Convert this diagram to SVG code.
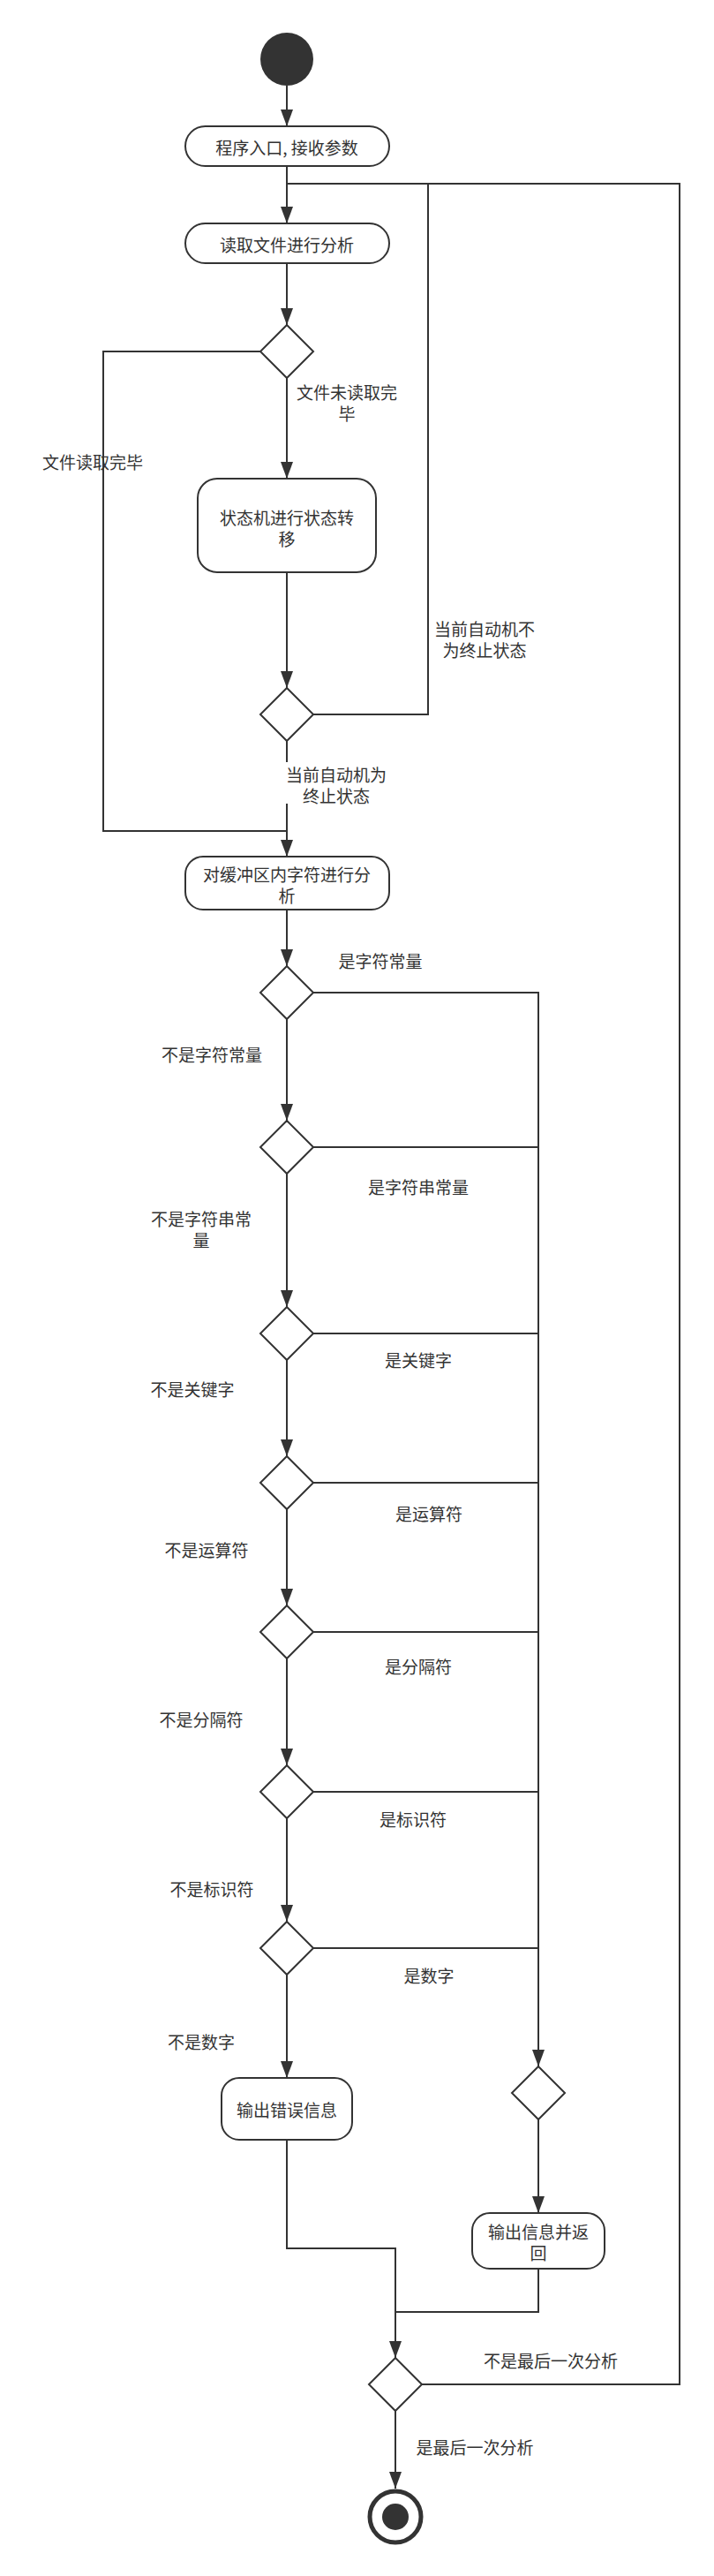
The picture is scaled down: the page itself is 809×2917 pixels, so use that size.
<svg xmlns="http://www.w3.org/2000/svg" width="809" height="2917" viewBox="0 0 809 2917">
<style>
.node{fill:#fff;stroke:#333;stroke-width:2}
.dia{fill:#fff;stroke:#333;stroke-width:2}
.t{font-family:"Noto Sans CJK SC","Liberation Sans",sans-serif;font-size:19px;fill:#333;text-anchor:middle;dominant-baseline:central}
.c{fill:none;stroke:#333;stroke-width:2}
.ca{fill:none;stroke:#333;stroke-width:2;marker-end:url(#arr)}
</style>
<defs>
<marker id="arr" markerUnits="userSpaceOnUse" markerWidth="20" markerHeight="14" refX="19" refY="7" orient="auto">
<path d="M0,0 L19,7 L0,14 z" fill="#333"/>
</marker>
</defs>
<rect width="809" height="2917" fill="#fff"/>

<g id="label-file-done"><text class="t" x="105" y="522">文件读取完毕</text></g>

<g id="connectors">
<path class="ca" d="M325,97 V143"/>
<path class="ca" d="M325,188 V253"/>
<path class="ca" d="M325,298 V368"/>
<path class="ca" d="M325,428 V542"/>
<path class="ca" d="M325,648 V779"/>
<path class="c" d="M355,809 H485 V208 H325"/>
<path class="ca" d="M325,839 V970"/>
<path class="c" d="M295,398 H117 V941 H325"/>
<path class="ca" d="M325,1030 V1094"/>
<path class="ca" d="M355,1124 H610 V2340"/>
<path class="ca" d="M325,1154 V1269"/>
<path class="c" d="M355,1299 H610"/>
<path class="ca" d="M325,1329 V1480"/>
<path class="c" d="M355,1510 H610"/>
<path class="ca" d="M325,1540 V1649"/>
<path class="c" d="M355,1679 H610"/>
<path class="ca" d="M325,1709 V1818"/>
<path class="c" d="M355,1848 H610"/>
<path class="ca" d="M325,1878 V1999"/>
<path class="c" d="M355,2029 H610"/>
<path class="ca" d="M325,2059 V2176"/>
<path class="c" d="M355,2206 H610"/>
<path class="ca" d="M325,2236 V2353"/>
<path class="ca" d="M610,2400 V2506"/>
<path class="ca" d="M325,2423 V2546 H448 V2670"/>
<path class="c" d="M610,2569 V2618 H448"/>
<path class="c" d="M478,2700 H770 V208 H325"/>
<path class="ca" d="M448,2730 V2818"/>
</g>

<g id="labels">
<text class="t" x="393" y="443">文件未读取完</text>
<text class="t" x="393" y="467">毕</text>
<text class="t" x="549" y="711">当前自动机不</text>
<text class="t" x="549" y="735">为终止状态</text>
<rect x="323" y="863" width="117" height="47" fill="#fff"/>
<text class="t" x="381" y="876">当前自动机为</text>
<text class="t" x="381" y="900">终止状态</text>
<text class="t" x="431" y="1087">是字符常量</text>
<text class="t" x="240" y="1193">不是字符常量</text>
<text class="t" x="474" y="1343">是字符串常量</text>
<text class="t" x="228" y="1379">不是字符串常</text>
<text class="t" x="228" y="1403">量</text>
<text class="t" x="474" y="1539">是关键字</text>
<text class="t" x="218" y="1572">不是关键字</text>
<text class="t" x="486" y="1713">是运算符</text>
<text class="t" x="234" y="1754">不是运算符</text>
<text class="t" x="474" y="1886">是分隔符</text>
<text class="t" x="228" y="1946">不是分隔符</text>
<text class="t" x="468" y="2059">是标识符</text>
<text class="t" x="240" y="2138">不是标识符</text>
<text class="t" x="486" y="2236">是数字</text>
<text class="t" x="228" y="2311">不是数字</text>
<text class="t" x="624" y="2672">不是最后一次分析</text>
<text class="t" x="538" y="2770">是最后一次分析</text>
</g>

<g id="start"><circle cx="325" cy="67" r="30" fill="#333"/></g>
<g id="entry"><rect class="node" x="210" y="143" width="231" height="45" rx="22.5"/><text class="t" x="325" y="166">程序入口, 接收参数</text></g>
<g id="read"><rect class="node" x="210" y="253" width="231" height="45" rx="22.5"/><text class="t" x="325" y="276">读取文件进行分析</text></g>
<g id="d1"><polygon class="dia" points="325,368 355,398 325,428 295,398"/></g>
<g id="fsm"><rect class="node" x="224" y="542" width="202" height="106" rx="22"/><text class="t" x="325" y="585">状态机进行状态转</text><text class="t" x="325" y="609">移</text></g>
<g id="d2"><polygon class="dia" points="325,779 355,809 325,839 295,809"/></g>
<g id="analyze"><rect class="node" x="210" y="970" width="231" height="60" rx="20"/><text class="t" x="325" y="989">对缓冲区内字符进行分</text><text class="t" x="325" y="1013">析</text></g>
<g id="d3"><polygon class="dia" points="325,1094 355,1124 325,1154 295,1124"/></g>
<g id="d4"><polygon class="dia" points="325,1269 355,1299 325,1329 295,1299"/></g>
<g id="d5"><polygon class="dia" points="325,1480 355,1510 325,1540 295,1510"/></g>
<g id="d6"><polygon class="dia" points="325,1649 355,1679 325,1709 295,1679"/></g>
<g id="d7"><polygon class="dia" points="325,1818 355,1848 325,1878 295,1848"/></g>
<g id="d8"><polygon class="dia" points="325,1999 355,2029 325,2059 295,2029"/></g>
<g id="d9"><polygon class="dia" points="325,2176 355,2206 325,2236 295,2206"/></g>
<g id="error"><rect class="node" x="251" y="2353" width="148" height="70" rx="20"/><text class="t" x="325" y="2388">输出错误信息</text></g>
<g id="d10"><polygon class="dia" points="610,2340 640,2370 610,2400 580,2370"/></g>
<g id="output"><rect class="node" x="535" y="2506" width="150" height="63" rx="20"/><text class="t" x="610" y="2526">输出信息并返</text><text class="t" x="610" y="2550">回</text></g>
<g id="d11"><polygon class="dia" points="448,2670 478,2700 448,2730 418,2700"/></g>
<g id="end"><circle cx="448" cy="2850" r="29" fill="#fff" stroke="#333" stroke-width="5"/><circle cx="448" cy="2850" r="15" fill="#333"/></g>
</svg>
